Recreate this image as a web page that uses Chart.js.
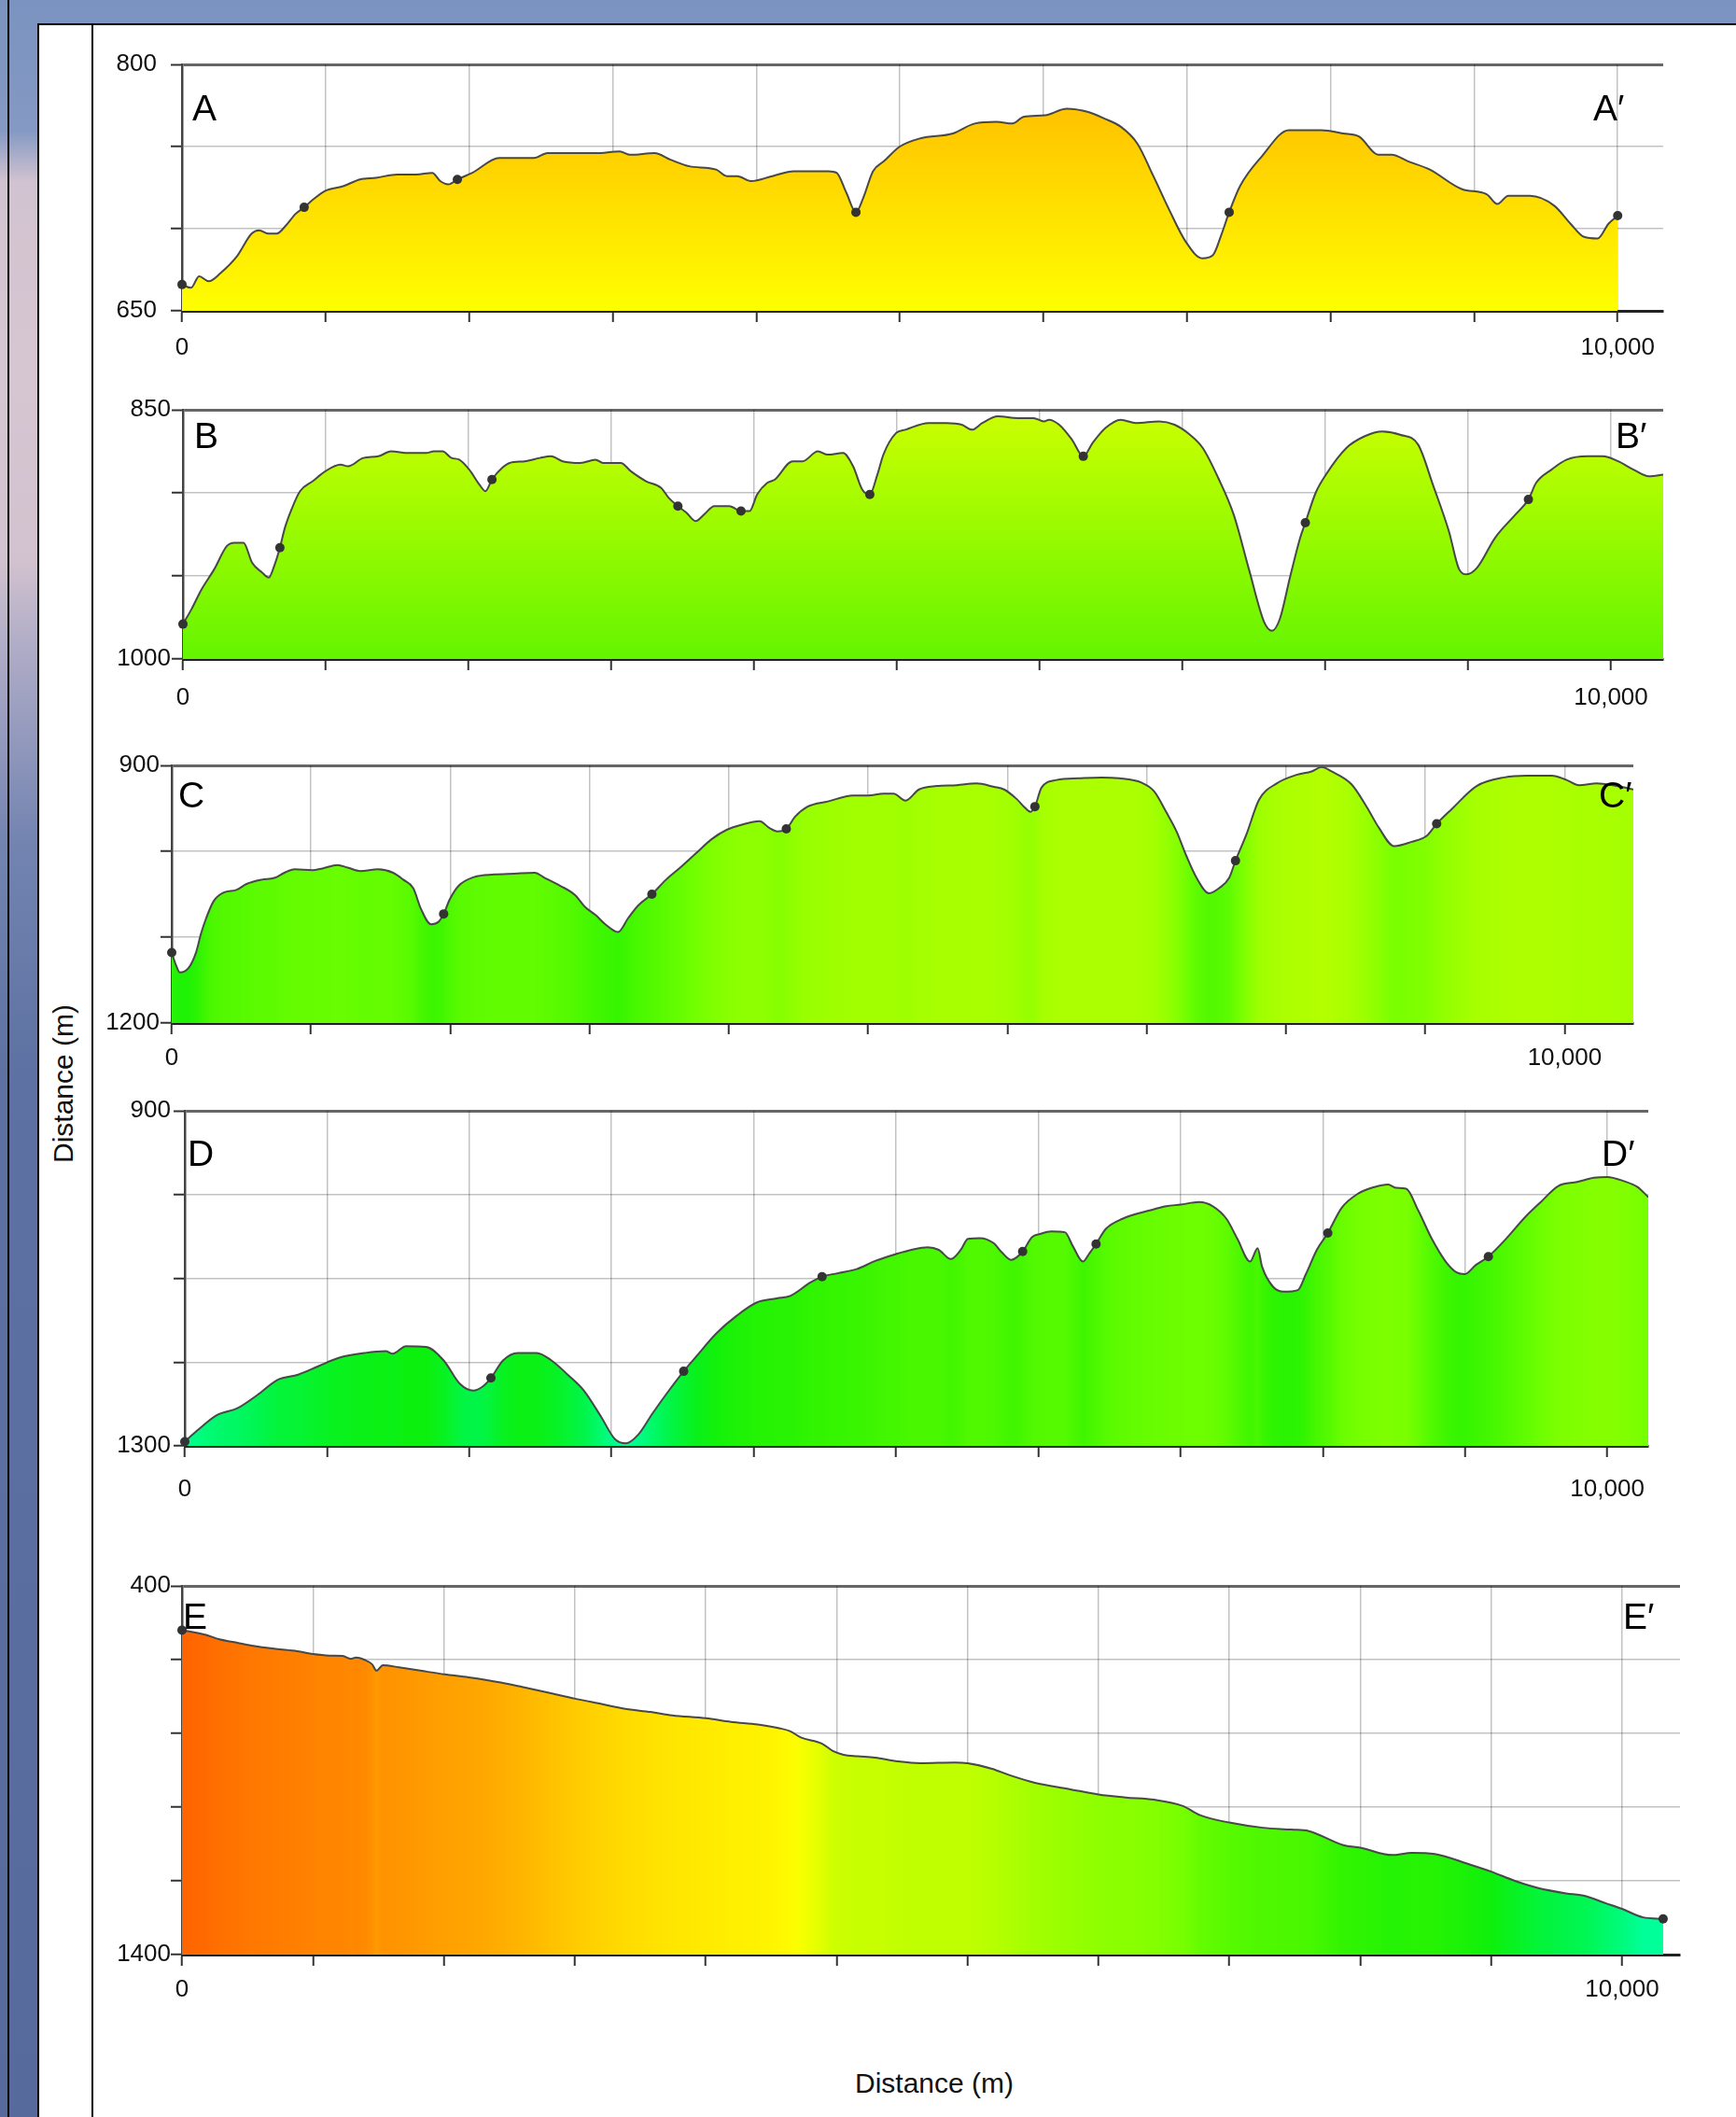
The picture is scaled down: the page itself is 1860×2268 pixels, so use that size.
<!DOCTYPE html>
<html lang="en">
<head>
<meta charset="utf-8">
<title>Profiles A-E</title>
<script src="https://cdn.jsdelivr.net/npm/chart.js@4.4.1/dist/chart.umd.min.js"></script>
<style>
html, body { margin: 0; padding: 0; }
body {
  width: 1860px; height: 2268px; position: relative; overflow: hidden;
  background: linear-gradient(to bottom, #7b93c0 0px, #8499c3 140px, #d2c3d0 195px, #d6c6d2 400px,
    #d2c2cf 600px, #b0adc7 690px, #7384b1 900px, #5d72a2 1150px, #566a9b 2268px);
}
#edge { position: absolute; left: 8px; top: 0; width: 2px; height: 2268px; background: #000; }
#sheet { position: absolute; left: 40px; top: 25px; width: 1818px; height: 2241px; background: #fff;
  border-left: 2px solid #000; border-top: 2px solid #000; }
#rule { position: absolute; left: 98px; top: 25px; width: 2px; height: 2243px; background: #000; }
canvas { position: absolute; }
.title { position: absolute; font-family: "Liberation Sans", Arial, sans-serif; font-size: 30px;
  color: #111; white-space: nowrap; }
#ytitle { left: 68px; top: 1161px; transform: translate(-50%, -50%) rotate(-90deg); }
#xtitle { left: 1001px; top: 2232px; transform: translate(-50%, -50%); }
</style>
</head>
<body>
<div id="edge"></div>
<div id="sheet"></div>
<div id="rule"></div>
<div class="title" id="ytitle">Distance (m)</div>
<div class="title" id="xtitle">Distance (m)</div>
<script>
// profile letters and axis labels
const letters = ['A', 'B', 'C', 'D', 'E'];
const yTop = [800, 850, 900, 900, 400];
const yBottom = [650, 1000, 1200, 1300, 1400];
const yStep = [50, 50, 100, 100, 200];
const xStep = [1000, 1000, 1000, 1000, 10000 / 11];
const xEnd = 10000;
const xMax = [10317, 10366, 10493, 10288, 10402];
const xLabelValues = [0, 10000];
const xLabelTexts = ['0', '10,000'];

// A
const distA = [0,63,119,187,269,381,485,537,604,660,724,791,851,903,996,1127,1239,1351,1500,1631,1743,1799,1855,1918,2022,2209,2451,2545,2694,2881,3049,3123,3291,3403,3534,3720,3795,3869,3963,4112,4261,4504,4560,4627,4694,4746,4813,4888,5000,5143,5370,5521,5672,5785,5860,6011,6162,6313,6426,6540,6653,6766,6879,6992,7106,7181,7238,7294,7370,7521,7709,7823,7936,8087,8200,8332,8426,8540,8691,8917,9087,9162,9238,9389,9558,9672,9766,9860,9936,10000];
const elevA = [666,664,671,668,673,683,697,699,697,697,702,709,713,717,723,726,730,731,733,733,734,729,727,730,734,743,743,746,746,746,747,745,746,742,738,736,732,732,729,732,735,735,734,722,710,719,735,741,750,755,758,764,765,764,768,769,773,771,767,762,752,732,711,692,682,684,696,710,726,744,760,760,760,758,756,745,745,741,736,724,721,715,720,720,714,703,695,694,703,708];
const markDistA = [0, 851, 1918, 4694, 7294, 10000];
const markElevA = [666, 713, 730, 710, 710, 708];

// B
const distB = [0,60,131,219,308,361,424,484,555,601,643,679,714,760,820,909,997,1103,1156,1263,1369,1457,1581,1705,1757,1818,1881,1934,2005,2076,2118,2164,2235,2288,2394,2500,2578,2659,2783,2889,2942,3066,3137,3243,3349,3402,3466,3526,3590,3650,3721,3827,3908,3968,4021,4092,4145,4269,4339,4446,4516,4622,4693,4757,4810,4863,4905,4994,5060,5221,5347,5454,5526,5598,5706,5849,5957,6029,6065,6136,6226,6305,6370,6460,6567,6675,6836,6944,7052,7142,7250,7358,7465,7573,7627,7681,7752,7824,7860,7932,8004,8147,8273,8399,8524,8650,8757,8865,8937,8991,9063,9189,9332,9422,9476,9584,9691,9835,9943,10050,10158,10266,10366];
const elevB = [979,970,958,946,932,930,930,942,948,951,943,933,921,910,899,893,887,883,884,879,878,875,876,876,875,875,879,880,886,895,899,892,885,882,881,879,878,881,882,880,882,882,887,893,897,903,908,912,917,913,908,908,911,911,901,894,892,881,881,875,877,876,884,898,901,889,877,864,862,858,858,859,862,858,854,855,855,857,856,859,868,878,870,861,856,858,857,859,865,873,891,913,946,978,983,976,951,927,918,900,889,873,866,863,865,871,896,923,946,949,945,927,913,904,894,886,880,878,878,881,886,890,889];
const markDistB = [0, 679, 2164, 3466, 3908, 4810, 6305, 7860, 9422];
const markElevB = [979, 933, 892, 908, 911, 901, 878, 918, 904];

// C
const distC = [0,29,58,120,174,210,247,301,374,464,537,646,737,809,882,1009,1081,1190,1263,1354,1481,1589,1662,1734,1789,1861,1916,1952,1996,2061,2170,2315,2460,2605,2678,2787,2896,2968,3041,3113,3204,3276,3349,3447,3549,3658,3766,3875,3984,4093,4220,4292,4347,4412,4474,4565,4710,4891,5000,5109,5182,5268,5365,5490,5634,5777,5903,5975,6065,6118,6165,6197,6244,6352,6514,6675,6801,6962,7052,7142,7214,7286,7358,7447,7519,7591,7637,7716,7806,7932,8075,8183,8255,8327,8470,8578,8668,8775,8901,9009,9081,9188,9368,9566,9727,9907,10014,10104,10230,10373,10493];
const elevC = [1118,1132,1141,1136,1118,1096,1078,1058,1048,1045,1038,1033,1031,1025,1021,1022,1020,1016,1019,1023,1021,1025,1033,1043,1067,1085,1082,1073,1056,1040,1030,1027,1026,1025,1031,1040,1051,1065,1074,1085,1094,1078,1063,1050,1033,1018,1002,986,975,969,965,973,977,974,960,948,942,935,935,933,933,941,928,924,923,921,925,928,939,948,954,948,926,917,915,914,915,920,930,955,977,1006,1031,1049,1043,1031,1011,980,940,921,911,907,902,907,922,948,973,994,989,982,968,951,924,914,912,912,917,923,921,924,928];
const markDistC = [0, 1952, 3447, 4412, 6197, 7637, 9081];
const markElevC = [1118, 1073, 1050, 974, 948, 1011, 968];

// D
const distD = [0,85,227,370,512,654,796,938,1081,1270,1412,1460,1555,1697,1820,1934,2028,2095,2152,2237,2341,2474,2578,2692,2806,2929,3024,3100,3185,3289,3403,3507,3592,3735,3877,4019,4161,4256,4398,4480,4588,4723,4857,5000,5108,5223,5300,5385,5455,5505,5590,5686,5744,5810,5890,5955,6013,6090,6187,6244,6314,6360,6406,6475,6591,6783,6899,7000,7130,7227,7323,7400,7489,7542,7573,7650,7727,7824,7881,7958,8035,8132,8247,8363,8459,8517,8586,8671,8767,8864,8941,8998,9076,9164,9287,9422,9538,9653,9788,9904,10000,10116,10212,10288];
const elevD = [1295,1282,1263,1255,1239,1221,1215,1205,1195,1189,1187,1190,1181,1182,1198,1226,1234,1229,1219,1198,1189,1189,1198,1215,1234,1266,1292,1297,1287,1261,1234,1211,1194,1166,1145,1129,1124,1121,1105,1098,1094,1089,1079,1071,1066,1063,1066,1077,1066,1053,1052,1058,1069,1078,1068,1051,1047,1044,1045,1062,1080,1070,1059,1041,1029,1019,1014,1012,1009,1014,1029,1053,1080,1064,1086,1110,1116,1114,1095,1066,1046,1016,999,991,988,992,993,1019,1053,1080,1093,1095,1084,1074,1053,1027,1008,990,985,980,979,984,991,1003];
const markDistD = [0, 2152, 3507, 4480, 5890, 6406, 8035, 9164];
const markElevD = [1295, 1219, 1211, 1098, 1068, 1059, 1046, 1074];

// E
const distE = [0,56,167,260,353,483,651,800,911,1023,1116,1172,1209,1265,1321,1350,1395,1507,1656,1823,1990,2214,2362,2548,2731,2920,3069,3255,3404,3638,3813,3999,4148,4222,4297,4445,4520,4594,4693,4812,4971,5129,5367,5455,5625,5744,5923,6161,6364,6554,6752,6951,7070,7273,7507,7706,7825,8064,8182,8402,8540,8699,8937,9091,9255,9413,9611,9730,9889,10000,10146,10285];
const elevE = [520,524,533,545,552,562,571,577,585,589,590,598,594,600,613,630,615,621,630,640,648,662,674,690,706,721,733,742,751,759,769,776,786,794,811,828,848,858,862,866,876,881,879,881,896,913,934,951,966,974,980,997,1022,1042,1056,1061,1065,1103,1110,1130,1124,1127,1155,1175,1200,1219,1234,1240,1261,1276,1299,1303];
const markDistE = [0, 10285];
const markElevE = [520, 1303];

const profiles = [
  { dist: distA, elev: elevA, markDist: markDistA, markElev: markElevA },
  { dist: distB, elev: elevB, markDist: markDistB, markElev: markElevB },
  { dist: distC, elev: elevC, markDist: markDistC, markElev: markElevC },
  { dist: distD, elev: elevD, markDist: markDistD, markElev: markElevD },
  { dist: distE, elev: elevE, markDist: markDistE, markElev: markElevE }
];

// where each plot area sits on the page, and its fill style
const layout = [
  { left: 195, top: 69, right: 1782, bottom: 333, xPad: 12, yPad: 15, endShift: 14, fill: ['#ffb500', '#ffff00'], letterL: [11, 60], letterR: [-75, 60] },
  { left: 196, top: 439, right: 1782, bottom: 706, xPad: 14, yPad: 1, endShift: 2, fill: ['#ccff00', '#64f500'], letterL: [12, 41], letterR: [-51, 41] },
  { left: 184, top: 820, right: 1750, bottom: 1096, xPad: 10, yPad: 1, endShift: 10, fill: null, letterL: [7, 45], letterR: [-37, 45] },
  { left: 198, top: 1190, right: 1766, bottom: 1549, xPad: 19, yPad: 3, endShift: 10, fill: null, letterL: [3, 59], letterR: [-50, 59] },
  { left: 195, top: 1699, right: 1800, bottom: 2094, xPad: 10, yPad: 0, endShift: 13, fill: null, letterL: [1, 46], letterR: [-61, 46] }
];
const PAD_TOP = 50, PAD_RIGHT = 50, AXIS_H = 80, CANVAS_LEFT = 100;

// elevation colour ramp used for the horizontally shaded profiles
const colorMap = [
  [500, [255, 85, 0]], [520, [255, 100, 0]], [600, [255, 138, 0]], [650, [255, 165, 0]],
  [710, [255, 206, 0]], [760, [255, 235, 0]], [805, [255, 255, 0]], [835, [213, 255, 0]],
  [880, [192, 255, 0]], [930, [164, 255, 0]], [970, [140, 255, 0]], [1000, [116, 255, 0]],
  [1040, [88, 250, 0]], [1100, [50, 244, 0]], [1180, [12, 240, 12]], [1240, [0, 246, 80]],
  [1300, [0, 255, 153]]
];

function elevColor(v) {
  const rgb = c => `rgb(${c[0]},${c[1]},${c[2]})`;
  if (v <= colorMap[0][0]) return rgb(colorMap[0][1]);
  for (let k = 1; k < colorMap.length; k++) {
    if (v <= colorMap[k][0]) {
      const [v0, c0] = colorMap[k - 1], [v1, c1] = colorMap[k];
      const t = (v - v0) / (v1 - v0);
      return rgb(c0.map((c, j) => Math.round(c + (c1[j] - c) * t)));
    }
  }
  return rgb(colorMap[colorMap.length - 1][1]);
}

const letterPlugin = {
  id: 'letters',
  afterDraw(chart, args, opts) {
    const a = chart.chartArea, c = chart.ctx;
    c.save();
    c.font = '39px "Liberation Sans", Arial, sans-serif';
    c.fillStyle = '#000';
    c.textAlign = 'left';
    c.textBaseline = 'alphabetic';
    c.fillText(opts.name, a.left + opts.l[0], a.top + opts.l[1]);
    c.fillText(opts.name + '\u2032', a.right + opts.r[0], a.top + opts.r[1]);
    c.restore();
  }
};

Chart.defaults.font.family = '"Liberation Sans", Arial, sans-serif';
Chart.defaults.color = '#111';

profiles.forEach((p, i) => {
  const L = layout[i];
  const cv = document.createElement('canvas');
  const canvasTop = L.top - PAD_TOP;
  cv.width = L.right + PAD_RIGHT - CANVAS_LEFT;
  cv.height = L.bottom - canvasTop + AXIS_H;
  cv.style.left = CANVAS_LEFT + 'px';
  cv.style.top = canvasTop + 'px';
  document.body.appendChild(cv);

  const fillStyle = (ctx) => {
    const chart = ctx.chart, area = chart.chartArea;
    if (!area) return 'transparent';
    if (L.fill) {
      const g = chart.ctx.createLinearGradient(0, area.top, 0, area.bottom);
      g.addColorStop(0, L.fill[0]);
      g.addColorStop(1, L.fill[1]);
      return g;
    }
    const xs = chart.scales.x;
    const g = chart.ctx.createLinearGradient(area.left, 0, area.right, 0);
    p.dist.forEach((d, k) => {
      const t = (xs.getPixelForValue(d) - area.left) / (area.right - area.left);
      g.addColorStop(Math.min(1, Math.max(0, t)), elevColor(p.elev[k]));
    });
    return g;
  };

  new Chart(cv, {
    type: 'line',
    data: {
      datasets: [
        {
          data: p.markDist.map((d, k) => ({ x: d, y: p.markElev[k] })),
          showLine: false,
          pointRadius: 5,
          pointBackgroundColor: '#333',
          pointBorderWidth: 0,
          clip: false,
          order: 0
        },
        {
          data: p.dist.map((d, k) => ({ x: d, y: p.elev[k] })),
          borderColor: '#484848',
          borderWidth: 2,
          pointRadius: 0,
          cubicInterpolationMode: 'monotone',
          fill: { value: yBottom[i] },
          backgroundColor: fillStyle,
          order: 1
        }
      ]
    },
    options: {
      responsive: false,
      animation: false,
      events: [],
      layout: { padding: { top: PAD_TOP, right: PAD_RIGHT, left: 0, bottom: 0 } },
      plugins: {
        legend: { display: false },
        tooltip: { enabled: false },
        letters: { name: letters[i], l: L.letterL, r: L.letterR }
      },
      scales: {
        x: {
          type: 'linear',
          bounds: 'data',
          min: 0,
          max: xMax[i],
          z: 1,
          afterFit: s => { s.height = AXIS_H; },
          afterBuildTicks: s => {
            const t = [];
            for (let k = 0; k * xStep[i] <= xEnd + 0.5; k++) t.push({ value: k * xStep[i] });
            s.ticks = t;
          },
          ticks: {
            autoSkip: false,
            maxRotation: 0,
            minRotation: 0,
            padding: L.xPad,
            labelOffset: c => (c.tick && c.tick.value > 0) ? L.endShift : 0,
            font: { size: 26 },
            color: '#111',
            callback: v => {
              const k = xLabelValues.findIndex(t => Math.abs(t - v) < 1);
              return k >= 0 ? xLabelTexts[k] : '';
            }
          },
          grid: {
            color: 'rgba(0,0,0,0.24)',
            lineWidth: 1.5,
            tickLength: 12,
            tickColor: '#333',
            tickWidth: 2
          },
          border: { color: '#222', width: 3 }
        },
        y: {
          type: 'linear',
          min: Math.min(yTop[i], yBottom[i]),
          max: Math.max(yTop[i], yBottom[i]),
          reverse: yTop[i] < yBottom[i],
          z: 1,
          afterFit: s => { s.width = L.left - CANVAS_LEFT; },
          ticks: {
            stepSize: yStep[i],
            autoSkip: false,
            padding: L.yPad,
            font: { size: 26 },
            color: '#111',
            callback: v => (v === yTop[i] || v === yBottom[i]) ? String(v) : ''
          },
          grid: {
            color: c => (c.tick && c.tick.value === yTop[i]) ? 'rgba(0,0,0,0.6)' : 'rgba(0,0,0,0.24)',
            lineWidth: c => (c.tick && c.tick.value === yTop[i]) ? 3 : 1.5,
            tickLength: 12,
            tickColor: '#333',
            tickWidth: 2
          },
          border: { color: '#444', width: 2.5 }
        }
      }
    },
    plugins: [letterPlugin]
  });
});
</script>
</body>
</html>
